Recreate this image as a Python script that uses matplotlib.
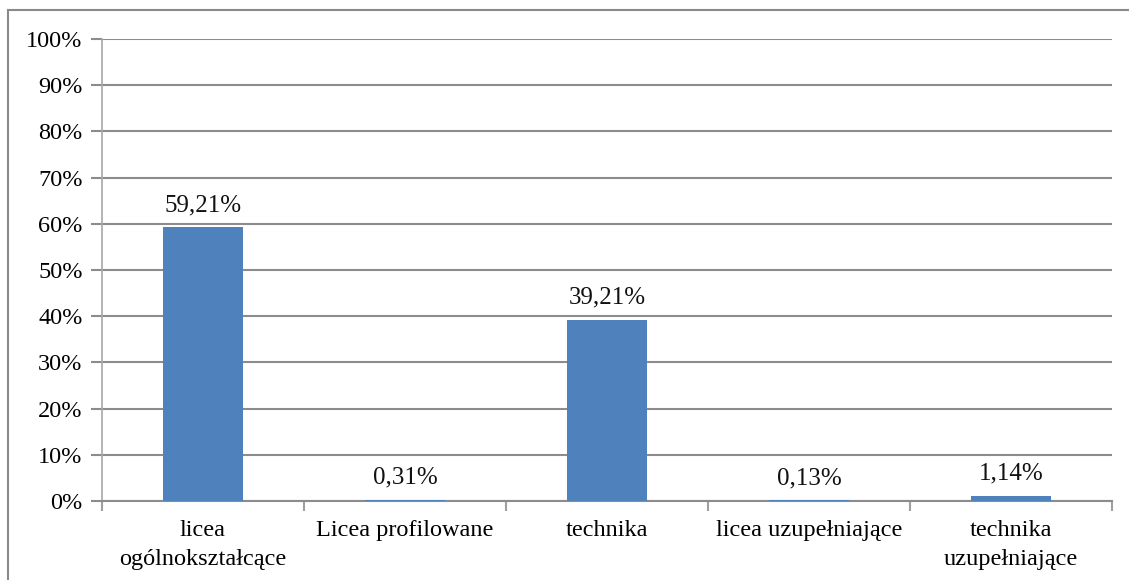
import matplotlib.pyplot as plt
from matplotlib.lines import Line2D

categories = ["licea\nogólnokształcące", "Licea profilowane", "technika",
              "licea uzupełniające", "technika\nuzupełniające"]
values = [59.21, 0.31, 39.21, 0.13, 1.14]
value_labels = ["59,21%", "0,31%", "39,21%", "0,13%", "1,14%"]
yticks = list(range(0, 101, 10))
ytick_labels = [f"{t}%" for t in yticks]

BLUE = "#4F81BD"
GRID = "#8C8C8C"

plt.rcParams["font.family"] = ["Liberation Serif", "DejaVu Serif"]

fig = plt.figure(figsize=(11.29, 5.8), dpi=100)
fig.patch.set_facecolor("white")
ax = fig.add_axes([102 / 1129, 1 - 501 / 580, 1010 / 1129, 462 / 580])

# outer frame (left and top only are visible in the source)
fig.add_artist(Line2D([8 / 1129, 8 / 1129], [0, 1 - 10 / 580], transform=fig.transFigure,
                      color="#8A8A8A", lw=1.5))
fig.add_artist(Line2D([8 / 1129, 1], [1 - 10 / 580, 1 - 10 / 580], transform=fig.transFigure,
                      color="#8A8A8A", lw=1.5))

x = range(len(categories))
ax.bar(x, values, width=0.4, color=BLUE, zorder=3)
for i, (v, lab) in enumerate(zip(values, value_labels)):
    ax.annotate(lab, (i, v), xytext=(0, 8), textcoords="offset points",
                ha="center", va="bottom", fontsize=18, color="#111111")

ax.set_xlim(-0.5, len(categories) - 0.5)
ax.set_ylim(0, 100)
ax.set_yticks(yticks)
ax.set_yticklabels(ytick_labels, fontsize=17.5)
ax.yaxis.grid(True, color=GRID, lw=1.5, zorder=0)
ax.set_axisbelow(True)

ax.set_xticks([i - 0.5 for i in range(len(categories) + 1)], minor=False)
ax.set_xticklabels([])
ax.set_xticks(list(x), minor=True)
ax.set_xticklabels(categories, minor=True, fontsize=17.5, linespacing=1.45)
ax.tick_params(axis="x", which="minor", length=0, pad=14)
ax.tick_params(axis="x", which="major", length=7, color="#A0A0A0", width=1.5, direction="out")
ax.tick_params(axis="y", length=8, color=GRID, width=1.5, direction="out", pad=6)

for side in ["top", "right"]:
    ax.spines[side].set_visible(False)
ax.spines["left"].set_color("#A8A8A8")
ax.spines["left"].set_linewidth(1.2)
ax.spines["bottom"].set_color(GRID)
ax.spines["bottom"].set_linewidth(1.5)

fig.savefig("out.png", dpi=100)
